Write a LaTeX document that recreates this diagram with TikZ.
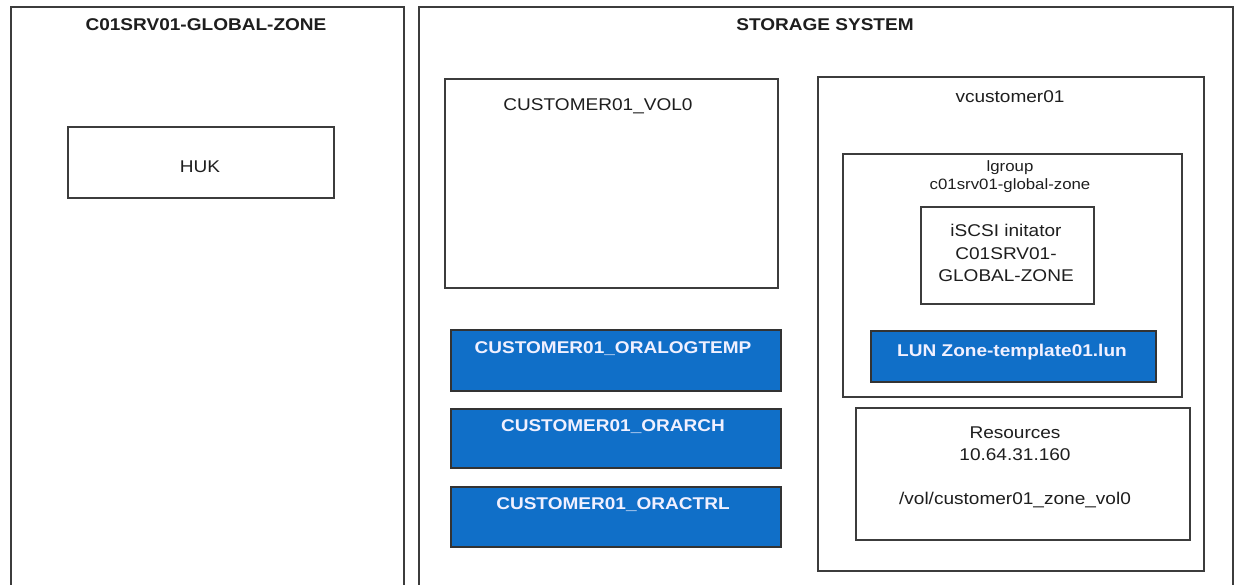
\documentclass[tikz,border=0pt]{standalone}
\usepackage{fontspec}
\setmainfont{Liberation Sans}[FakeStretch=1.12]
\definecolor{lunblue}{RGB}{16,111,200}
\definecolor{edge}{RGB}{60,60,60}
\definecolor{ink}{RGB}{30,30,30}
\tikzset{
  box/.style={draw=edge, line width=1.6pt, fill=white, rectangle, inner sep=0pt, anchor=north west},
  bluebox/.style={box, fill=lunblue, draw=black!80},
  txt/.style={text=ink, font=\fontsize{17}{22}\selectfont, inner sep=0pt, align=center},
  ttl/.style={txt, font=\fontsize{17}{22}\selectfont\bfseries},
  wtxt/.style={text=white!94!blue, font=\fontsize{17}{22}\selectfont\bfseries, inner sep=0pt},
  small/.style={txt, font=\fontsize{15}{18}\selectfont},
}
\begin{document}
\begin{tikzpicture}[x=1pt,y=-1pt]
\clip (0,0) rectangle (1240,585);
\fill[white] (0,0) rectangle (1240,585);
% left zone
\node[box, minimum width=393pt, minimum height=600pt] (zone) at (10,6) {};
\node[ttl] (zonet) at (206,25) {C01SRV01-GLOBAL-ZONE};
\node[box, minimum width=266pt, minimum height=71pt] (huk) at (67,126) {};
\node[txt] (hukt) at (200,167) {HUK};
% storage system
\node[box, minimum width=814pt, minimum height=600pt] (stor) at (418,6) {};
\node[ttl] (stort) at (825,25) {STORAGE SYSTEM};
\node[box, minimum width=333pt, minimum height=209pt] (vol) at (444,78) {};
\node[txt] (volt) at (598,106) {CUSTOMER01\_VOL0};
\node[bluebox, minimum width=330pt, minimum height=61pt] (olog) at (450,329) {};
\node[wtxt] (ologt) at (613,349) {CUSTOMER01\_ORALOGTEMP};
\node[bluebox, minimum width=330pt, minimum height=59pt] (oarch) at (450,408) {};
\node[wtxt] (oarcht) at (613,427) {CUSTOMER01\_ORARCH};
\node[bluebox, minimum width=330pt, minimum height=60pt] (octrl) at (450,486) {};
\node[wtxt] (octrlt) at (613,505) {CUSTOMER01\_ORACTRL};
% vserver
\node[box, minimum width=386pt, minimum height=494pt] (vc) at (817,76) {};
\node[txt] (vct) at (1010,97) {vcustomer01};
\node[box, minimum width=339pt, minimum height=243pt] (lg) at (842,153) {};
\node[small] (lgt) at (1010,177) {lgroup\\c01srv01-global-zone};
\node[box, minimum width=173pt, minimum height=97pt] (isc) at (920,206) {};
\node[txt, font=\fontsize{17}{22.5}\selectfont] (isct) at (1006,253) {iSCSI initator\\C01SRV01-\\GLOBAL-ZONE};
\node[bluebox, minimum width=285pt, minimum height=51pt] (lun) at (870,330) {};
\node[wtxt] (lunt) at (1012,352) {LUN Zone-template01.lun};
\node[box, minimum width=334pt, minimum height=132pt] (res) at (855,407) {};
\node[txt] (rest1) at (1015,444) {Resources\\10.64.31.160};
\node[txt] (rest2) at (1015,500) {/vol/customer01\_zone\_vol0};
\end{tikzpicture}
\end{document}
